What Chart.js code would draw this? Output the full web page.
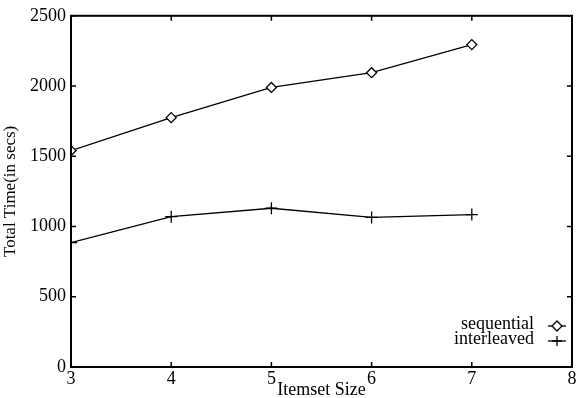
<!DOCTYPE html>
<html>
<head>
<meta charset="utf-8">
<script src="https://cdn.jsdelivr.net/npm/chart.js@4/dist/chart.umd.min.js"></script>
<style>
    body { margin: 0; background: #fff; }
</style>
</head>
<body>
<canvas id="laikaGrafiks" width="583" height="398"></canvas>
<script>
// Kopas izmēri uz X ass.
const kopasIzmeri = [3, 4, 5, 6, 7];

// Secīgās versijas kopējais laiks sekundēs.
const secigiLaiki = [1540, 1775, 1990, 2095, 2295];

// Pārmaiņus versijas kopējais laiks sekundēs.
const parmainusLaiki = [885, 1070, 1130, 1065, 1085];

// Ass atzīmes.
const xAtzimes = [3, 4, 5, 6, 7, 8];
const yAtzimes = [0, 500, 1000, 1500, 2000, 2500];

const burti = "'Liberation Serif', 'DejaVu Serif', serif";

// Šī funkcija savieno X un Y vērtības punktos.
function punkti(vertibas) {
    return kopasIzmeri.map((x, i) => ({ x: x, y: vertibas[i] }));
}

// Rāmis ar iekšējām atzīmēm visās četrās pusēs un leģenda.
const ramjaSpraudnis = {
    id: "ramis",
    afterDraw(grafiks) {
        const ctx = grafiks.ctx;
        const laukums = grafiks.chartArea;
        const xAss = grafiks.scales.x;
        const yAss = grafiks.scales.y;
        ctx.save();
        ctx.strokeStyle = "#000";
        ctx.lineWidth = 2;
        ctx.strokeRect(laukums.left, laukums.top, laukums.right - laukums.left, laukums.bottom - laukums.top);
        ctx.lineWidth = 1.5;
        ctx.beginPath();
        xAtzimes.forEach(v => {
            const px = xAss.getPixelForValue(v);
            ctx.moveTo(px, laukums.bottom);
            ctx.lineTo(px, laukums.bottom - 5);
            ctx.moveTo(px, laukums.top);
            ctx.lineTo(px, laukums.top + 5);
        });
        yAtzimes.forEach(v => {
            const py = yAss.getPixelForValue(v);
            ctx.moveTo(laukums.left, py);
            ctx.lineTo(laukums.left + 5, py);
            ctx.moveTo(laukums.right, py);
            ctx.lineTo(laukums.right - 5, py);
        });
        ctx.stroke();

        // Leģenda apakšējā labajā stūrī.
        ctx.font = "18px " + burti;
        ctx.textAlign = "right";
        ctx.textBaseline = "middle";
        grafiks.data.datasets.forEach((kopa, i) => {
            const y = laukums.bottom - 43 + i * 15;
            ctx.fillStyle = "#000";
            ctx.fillText(kopa.label, laukums.right - 38, y);
            ctx.lineWidth = 1.3;
            ctx.beginPath();
            ctx.moveTo(laukums.right - 24, y + 2);
            ctx.lineTo(laukums.right - 6, y + 2);
            ctx.stroke();
            ctx.fillStyle = "#fff";
            Chart.helpers.drawPoint(ctx, {
                pointStyle: kopa.pointStyle,
                radius: 5,
                borderWidth: 1.3
            }, laukums.right - 15, y + 2);
        });
        ctx.restore();
    }
};

new Chart(document.getElementById("laikaGrafiks"), {
    type: "line",
    data: {
        datasets: [
            {
                label: "sequential",
                data: punkti(secigiLaiki),
                pointStyle: "rectRot",
                pointRadius: 5,
                pointBorderWidth: 1.3,
                pointBackgroundColor: "#fff",
                borderColor: "#000",
                pointBorderColor: "#000",
                borderWidth: 1.3,
                tension: 0
            },
            {
                label: "interleaved",
                data: punkti(parmainusLaiki),
                pointStyle: "cross",
                pointRadius: 6,
                pointBorderWidth: 1.3,
                borderColor: "#000",
                pointBorderColor: "#000",
                borderWidth: 1.3,
                tension: 0
            }
        ]
    },
    options: {
        responsive: false,
        animation: false,
        layout: { padding: { top: 15, right: 11, left: 0, bottom: 0 } },
        plugins: {
            legend: { display: false },
            tooltip: { enabled: false }
        },
        scales: {
            x: {
                type: "linear",
                min: 3,
                max: 8,
                afterBuildTicks: ass => { ass.ticks = xAtzimes.map(v => ({ value: v })); },
                afterFit: ass => { ass.height = 31; },
                grid: { display: false, drawTicks: false },
                border: { display: false },
                ticks: {
                    padding: 1,
                    color: "#000",
                    font: { family: burti, size: 18 }
                },
                title: {
                    display: true,
                    text: "Itemset Size",
                    color: "#000",
                    padding: { top: -4, bottom: -3 },
                    font: { family: burti, size: 18 }
                }
            },
            y: {
                min: 0,
                max: 2500,
                afterBuildTicks: ass => { ass.ticks = yAtzimes.map(v => ({ value: v })); },
                afterFit: ass => { ass.width = 71; },
                grid: { display: false, drawTicks: false },
                border: { display: false },
                ticks: {
                    padding: 5,
                    color: "#000",
                    font: { family: burti, size: 18 },
                    callback: v => String(v)
                },
                title: {
                    display: true,
                    text: "Total Time(in secs)",
                    color: "#000",
                    padding: { top: 0, bottom: 0 },
                    font: { family: burti, size: 17 }
                }
            }
        }
    },
    plugins: [ramjaSpraudnis]
});
</script>
</body>
</html>
